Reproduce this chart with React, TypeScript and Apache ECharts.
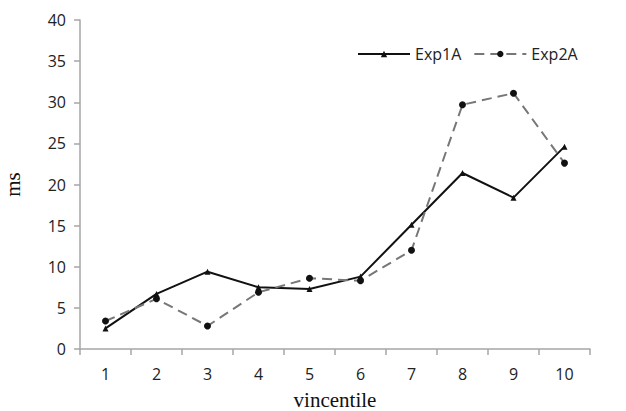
import React, { useEffect, useRef } from "react";
import * as echarts from "echarts";

const categories = ["1", "2", "3", "4", "5", "6", "7", "8", "9", "10"];
const exp1A = [2.5, 6.7, 9.4, 7.5, 7.3, 8.8, 15.1, 21.4, 18.4, 24.6];
const exp2A = [3.4, 6.1, 2.8, 6.9, 8.6, 8.3, 12.0, 29.7, 31.1, 22.6];

export default function App() {
  const ref = useRef<HTMLDivElement>(null);
  useEffect(() => {
    const chart = echarts.init(ref.current!, null, { renderer: "svg" });
    const axisColor = "#a6a6a6";
    const sans = "'Open Sans', 'Liberation Sans', sans-serif";
    const serif = "'Liberation Serif', 'DejaVu Serif', serif";
    chart.setOption({
      animation: false,
      backgroundColor: "#ffffff",
      grid: { left: 80, right: 36, top: 20, bottom: 62, containLabel: false, outerBoundsMode: "none" },
      legend: {
        top: 41,
        left: 352,
        itemWidth: 52,
        itemHeight: 8,
        itemGap: 12,
        textStyle: { fontFamily: sans, fontSize: 16, color: "#222" },
        data: ["Exp1A", "Exp2A"],
      },
      xAxis: {
        type: "category",
        data: categories,
        boundaryGap: true,
        name: "vincentile",
        nameLocation: "middle",
        nameGap: 40,
        nameTextStyle: { fontFamily: serif, fontSize: 21, color: "#111" },
        axisLine: { lineStyle: { color: axisColor, width: 1.5 } },
        axisTick: { show: true, length: 6, alignWithLabel: false, lineStyle: { color: axisColor, width: 1.5 } },
        axisLabel: { fontFamily: sans, fontSize: 16, color: "#222", margin: 17 },
        splitLine: { show: false },
      },
      yAxis: {
        type: "value",
        min: 0,
        max: 40,
        interval: 5,
        name: "ms",
        nameLocation: "middle",
        nameGap: 57,
        nameRotate: 90,
        nameTextStyle: { fontFamily: serif, fontSize: 21, color: "#111" },
        axisLine: { show: true, lineStyle: { color: axisColor, width: 1.5 } },
        axisTick: { show: true, length: 6, lineStyle: { color: axisColor, width: 1.5 } },
        axisLabel: { fontFamily: sans, fontSize: 16, color: "#222", margin: 14 },
        splitLine: { show: false },
      },
      series: [
        {
          name: "Exp1A",
          type: "line",
          data: exp1A,
          symbol: "triangle",
          symbolSize: 6,
          itemStyle: { color: "#111" },
          lineStyle: { color: "#111", width: 2 },
        },
        {
          name: "Exp2A",
          type: "line",
          data: exp2A,
          symbol: "circle",
          symbolSize: 7,
          itemStyle: { color: "#111" },
          lineStyle: { color: "#777", width: 2, type: [10, 6] },
        },
      ],
    });
    return () => chart.dispose();
  }, []);
  return <div ref={ref} style={{ width: 626, height: 411, position: "absolute", left: 0, top: 0 }} />;
}
